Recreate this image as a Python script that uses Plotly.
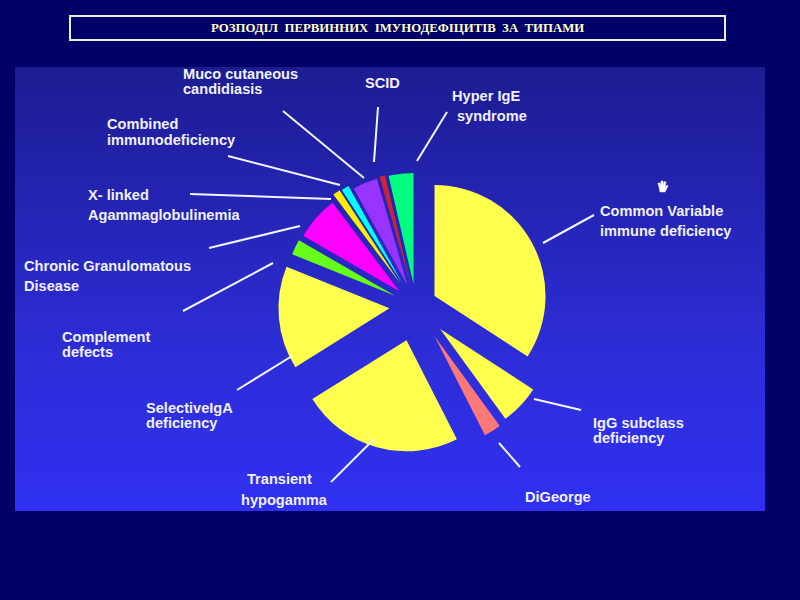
import plotly.graph_objects as go

categories = ["Common Variable immune deficiency", "IgG subclass deficiency", "DiGeorge",
              "Transient hypogamma", "Selective IgA deficiency", "Complement defects",
              "Chronic Granulomatous Disease", "X-linked Agammaglobulinemia", "Combined immunodeficiency",
              "Mucocutaneous candidiasis", "SCID", "Hyper IgE syndrome"]
# shares of the circle (degrees)
values = [123, 21, 9, 85, 54, 8, 23, 4, 4, 13, 3, 13]
# order in the picture is clockwise from 12 o'clock
slice_colors = ["#ffff4d", "#ffff4d", "#ff7878", "#ffff4d", "#ffff4d", "#66ff1a",
                "#ff00ff", "#ffee00", "#00ffff", "#9933ff", "#cc2233", "#00ff80"]
slice_pull = [0.19, 0.30, 0.32, 0.32, 0.24, 0.21, 0.20, 0.25, 0.24, 0.20, 0.21, 0.20]

title_text = "РОЗПОДІЛ  ПЕРВИННИХ  ІМУНОДЕФІЦИТІВ  ЗА  ТИПАМИ"
label_lines = [
    ("Common Variable", 598, 211), ("immune deficiency", 598, 231),
    ("IgG subclass", 591, 423), ("deficiency", 591, 438),
    ("DiGeorge", 523, 497),
    ("Transient", 245, 479), ("hypogamma", 239, 500),
    ("SelectiveIgA", 144, 408), ("deficiency", 144, 423),
    ("Complement", 60, 337), ("defects", 60, 352),
    ("Chronic Granulomatous", 22, 266), ("Disease", 22, 286),
    ("X- linked", 86, 195), ("Agammaglobulinemia", 86, 215),
    ("Combined", 105, 124), ("immunodeficiency", 105, 140),
    ("Muco cutaneous", 181, 74), ("candidiasis", 181, 89),
    ("SCID", 363, 83),
    ("Hyper IgE", 450, 96), ("syndrome", 455, 116),
]
leader_lines = [
    (543, 243, 594, 215), (534, 399, 581, 410), (499, 443, 520, 467), (331, 482, 374, 439),
    (237, 390, 292, 356), (183, 311, 273, 263), (209, 248, 300, 226), (190, 194, 331, 199),
    (228, 156, 340, 185), (283, 111, 364, 178), (378, 107, 374, 162), (447, 112, 417, 161),
]

W, H = 800, 600
fig = go.Figure()

# panel with its vertical gradient
fig.add_trace(go.Scatter(
    x=[15, 765, 765, 15, 15], y=[67, 67, 511, 511, 67], mode="lines", fill="toself",
    line=dict(width=0), hoverinfo="skip", showlegend=False,
    fillgradient=dict(type="vertical", colorscale=[[0, "#3030f2"], [0.35, "#2d2dd8"], [1, "#1c1c92"]]),
))

# pie: centre (416,306), radius 111
cx, cy, r = 416, 306, 111
half = r * (1 + max(slice_pull))
fig.add_trace(go.Pie(
    labels=categories, values=values, sort=False, direction="clockwise", rotation=0,
    pull=slice_pull, marker=dict(colors=slice_colors, line=dict(width=0)),
    textinfo="none", hoverinfo="label", showlegend=False,
    domain=dict(x=[(cx - half) / W, (cx + half) / W], y=[1 - (cy + half) / H, 1 - (cy - half) / H]),
))

shapes = [dict(type="line", xref="paper", yref="paper",
               x0=a / W, y0=1 - b / H, x1=c / W, y1=1 - d / H,
               line=dict(color="#f4f4ff", width=2), layer="above")
          for a, b, c, d in leader_lines]
shapes.append(dict(type="rect", xref="paper", yref="paper",
                   x0=70 / W, x1=725 / W, y0=1 - 40 / H, y1=1 - 16 / H,
                   line=dict(color="#f0f0dc", width=2), fillcolor="rgba(0,0,0,0)"))
# small white hand cursor
shapes.append(dict(type="path", xref="x", yref="y", layer="above",
                   path="M659,187 L658,183 L660,183 L661,186 L661,181 L663,181 L663,186 L664,181.5 "
                        "L666,182 L665,187 L667,185 L668,186 L665,192 L660,192 Z",
                   fillcolor="#ffffff", line=dict(color="#ffffff", width=0.5)))

ann = [dict(text=t, xref="paper", yref="paper", x=x / W, y=1 - y / H, xanchor="left", yanchor="middle",
            showarrow=False, font=dict(family="Liberation Sans", size=14.6, color="#f0f0ff", weight="bold"))
       for t, x, y in label_lines]
ann.append(dict(text=title_text, xref="paper", yref="paper", x=397 / W, y=1 - 28 / H,
                xanchor="center", yanchor="middle", showarrow=False,
                font=dict(family="Liberation Serif", size=12.8, color="#ffffcc", weight="bold")))

fig.update_layout(
    width=W, height=H, margin=dict(l=0, r=0, t=0, b=0), autosize=False,
    paper_bgcolor="#000068", plot_bgcolor="rgba(0,0,0,0)",
    xaxis=dict(range=[0, W], visible=False, fixedrange=True),
    yaxis=dict(range=[H, 0], visible=False, fixedrange=True),
    shapes=shapes, annotations=ann, showlegend=False,
)
fig.write_html("out.html", config={"displayModeBar": False},
               post_script="document.body.style.margin='0';document.body.style.background='#000068';")
